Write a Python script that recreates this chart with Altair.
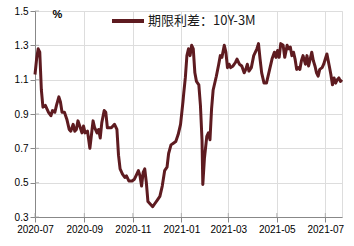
import altair as alt
import pandas as pd

dates = [
    "2020-07-01", "2020-07-03", "2020-07-05", "2020-07-07", "2020-07-09", "2020-07-11",
    "2020-07-14", "2020-07-16", "2020-07-18", "2020-07-21", "2020-07-23", "2020-07-26",
    "2020-07-28", "2020-07-31", "2020-08-02", "2020-08-04", "2020-08-07", "2020-08-10",
    "2020-08-13", "2020-08-15", "2020-08-18", "2020-08-20", "2020-08-22", "2020-08-24",
    "2020-08-27", "2020-08-29", "2020-08-31", "2020-09-02", "2020-09-05", "2020-09-08",
    "2020-09-10", "2020-09-12", "2020-09-14", "2020-09-17", "2020-09-19", "2020-09-21",
    "2020-09-23", "2020-09-26", "2020-09-28", "2020-09-30", "2020-10-05", "2020-10-09",
    "2020-10-12", "2020-10-14", "2020-10-16", "2020-10-19", "2020-10-22", "2020-10-24",
    "2020-10-27", "2020-10-31", "2020-11-03", "2020-11-06", "2020-11-08", "2020-11-10",
    "2020-11-12", "2020-11-14", "2020-11-16", "2020-11-18", "2020-11-20", "2020-11-24",
    "2020-11-26", "2020-11-29", "2020-12-02", "2020-12-05", "2020-12-08", "2020-12-11",
    "2020-12-14", "2020-12-16", "2020-12-19", "2020-12-22", "2020-12-25", "2020-12-28",
    "2020-12-31", "2021-01-03", "2021-01-04", "2021-01-06", "2021-01-08", "2021-01-10",
    "2021-01-12", "2021-01-14", "2021-01-16", "2021-01-18", "2021-01-20", "2021-01-23",
    "2021-01-25", "2021-01-27", "2021-01-28", "2021-01-30", "2021-02-02", "2021-02-04",
    "2021-02-06", "2021-02-08", "2021-02-10", "2021-02-14", "2021-02-17", "2021-02-19",
    "2021-02-21", "2021-02-24", "2021-02-26", "2021-02-28", "2021-03-02", "2021-03-04",
    "2021-03-07", "2021-03-10", "2021-03-12", "2021-03-15", "2021-03-18", "2021-03-21",
    "2021-03-23", "2021-03-25", "2021-03-27", "2021-03-30", "2021-04-02", "2021-04-06",
    "2021-04-08", "2021-04-10", "2021-04-12", "2021-04-15", "2021-04-18", "2021-04-21",
    "2021-04-25", "2021-04-28", "2021-04-30", "2021-05-02", "2021-05-04", "2021-05-06",
    "2021-05-09", "2021-05-11", "2021-05-14", "2021-05-16", "2021-05-18", "2021-05-20",
    "2021-05-22", "2021-05-24", "2021-05-26", "2021-05-28", "2021-05-30", "2021-06-01",
    "2021-06-03", "2021-06-06", "2021-06-08", "2021-06-10", "2021-06-12", "2021-06-14",
    "2021-06-16", "2021-06-18", "2021-06-20", "2021-06-22", "2021-06-24", "2021-06-27",
    "2021-06-29", "2021-07-01", "2021-07-03", "2021-07-06", "2021-07-08", "2021-07-10",
    "2021-07-12", "2021-07-14", "2021-07-16", "2021-07-18", "2021-07-20", "2021-07-22",
]

spread = [
    1.13, 1.22, 1.28, 1.26, 1.04, 0.94,
    0.95, 0.93, 0.91, 0.89, 0.92, 0.91,
    0.95, 1.00, 0.97, 0.91, 0.91, 0.87,
    0.81, 0.80, 0.84, 0.80, 0.81, 0.86,
    0.82, 0.79, 0.83, 0.79, 0.80, 0.70,
    0.78, 0.86, 0.82, 0.79, 0.81, 0.76,
    0.85, 0.92, 0.91, 0.82, 0.82, 0.84,
    0.81, 0.66, 0.58, 0.55, 0.53, 0.54,
    0.51, 0.51, 0.52, 0.55, 0.57, 0.54,
    0.48, 0.56, 0.58, 0.50, 0.39, 0.37,
    0.36, 0.38, 0.40, 0.42, 0.48, 0.57,
    0.59, 0.67, 0.72, 0.73, 0.74, 0.78,
    0.84, 0.97, 1.02, 1.11, 1.24, 1.28,
    1.24, 1.30, 1.28, 1.14, 1.09, 1.07,
    0.95, 0.75, 0.49, 0.64, 0.77, 0.79,
    0.75, 0.93, 1.04, 1.12, 1.19, 1.24,
    1.23, 1.30, 1.26, 1.17, 1.19, 1.17,
    1.18, 1.20, 1.22, 1.19, 1.18, 1.14,
    1.16, 1.19, 1.15, 1.17, 1.24, 1.28,
    1.31, 1.22, 1.14, 1.08, 1.08, 1.14,
    1.22, 1.26, 1.23, 1.27, 1.23, 1.31,
    1.30, 1.23, 1.30, 1.28, 1.29, 1.24,
    1.26, 1.22, 1.16, 1.17, 1.16, 1.21,
    1.24, 1.19, 1.24, 1.18, 1.22, 1.26,
    1.21, 1.18, 1.14, 1.12, 1.16, 1.17,
    1.19, 1.22, 1.25, 1.18, 1.13, 1.07,
    1.11, 1.08, 1.10, 1.11, 1.09, 1.10,
]

series_name = "期限利差：10Y-3M"
x_tick_dates = ["2020-07-01", "2020-09-01", "2020-11-01", "2021-01-01",
                "2021-03-01", "2021-05-01", "2021-07-01"]
y_tick_values = [0.3, 0.5, 0.7, 0.9, 1.1, 1.3, 1.5]

LINE_COLOR = "#5E1B20"
AXIS_COLOR = "#9a9a9a"
LABEL_COLOR = "#333333"

df = pd.DataFrame({"date": dates, "value": spread})
xt = pd.DataFrame({"date": x_tick_dates})
yt = pd.DataFrame({"value": y_tick_values})

def dt(s):
    y, m, d = (int(p) for p in s.split("-"))
    return alt.DateTime(year=y, month=m, date=d, utc=True)

x_scale = alt.Scale(type="utc", domain=[dt("2020-07-01"), dt("2021-07-22")])
y_scale = alt.Scale(domain=[0.3, 1.5], nice=False, zero=False)

x_axis = alt.Axis(values=[dt(s) for s in x_tick_dates],
                  labelExpr="utcFormat(datum.value, '%Y-%m')",
                  title=None, labelFlush=False, labelOverlap=False)
y_axis = alt.Axis(values=y_tick_values, format=".1f",
                  title="%", titleAngle=0, titleX=22,
                  titleY=3, titleAlign="center", titleBaseline="middle",
                  labelFlush=False, labelOverlap=False)

line = alt.Chart(df).mark_line(strokeWidth=3, strokeJoin="round").encode(
    x=alt.X("date:T", scale=x_scale, axis=x_axis),
    y=alt.Y("value:Q", scale=y_scale, axis=y_axis),
    color=alt.Color("s:N", scale=alt.Scale(domain=[series_name], range=[LINE_COLOR]),
                    legend=alt.Legend(title=None, orient="none", legendX=75, legendY=-8,
                                      symbolType="stroke", symbolSize=1024,
                                      symbolStrokeWidth=4, labelOffset=2,
                                      labelFont="Noto Sans CJK SC", labelFontSize=13,
                                      labelColor="#1a1a1a")),
).transform_calculate(s=f"'{series_name}'")

xticks = alt.Chart(xt).mark_tick(orient="vertical", size=4, thickness=1,
                                 color=AXIS_COLOR).encode(
    x=alt.X("date:T", scale=x_scale, axis=x_axis),
    y=alt.value(204),
)

yticks = alt.Chart(yt).mark_tick(orient="horizontal", size=4, thickness=1,
                                 color=AXIS_COLOR).encode(
    y=alt.Y("value:Q", scale=y_scale, axis=y_axis),
    x=alt.value(2),
)

chart = alt.layer(line, xticks, yticks).properties(
    width=307, height=206,
    autosize=alt.AutoSizeParams(type="none"),
    padding={"left": 35, "top": 11, "right": 12, "bottom": 29},
).configure_view(stroke=None).configure_axis(
    domainColor=AXIS_COLOR, labelColor=LABEL_COLOR, labelFont="Liberation Sans",
    labelFontSize=10.5, grid=False, titleFont="Liberation Sans", titleFontSize=10,
    titleFontWeight="normal", titleColor="#555555", ticks=False,
).configure_axisX(labelPadding=9).configure_axisY(labelPadding=14).configure(
    background="white")

chart.save("out.html", embed_options={"renderer": "svg", "actions": False})
